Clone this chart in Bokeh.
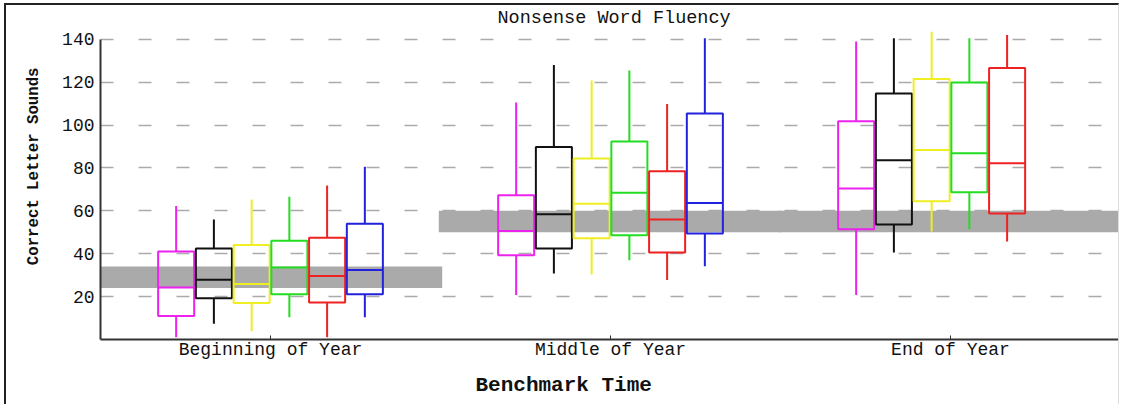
from bokeh.plotting import figure
from bokeh.models import FactorRange, ColumnDataSource, Title
from bokeh.transform import dodge
from bokeh.embed import file_html
from bokeh.resources import INLINE

categories = ["Beginning of Year", "Middle of Year", "End of Year"]
title_text = "Nonsense Word Fluency"
x_label = "Benchmark Time"
y_label = "Correct Letter Sounds"
y_ticks = [20, 40, 60, 80, 100, 120, 140]

# benchmark goal bands (low, high) per time
band_low = [24, 50, 50]
band_high = [34, 60, 60]

series_colors = ["#ee22ee", "#111111", "#eeee22", "#22dd22", "#ee2222", "#2222dd"]
# five-number summaries per series, per time (None = no data)
whisk_low = [
    [1, 20.7, 20.7],
    [7.3, 30.8, 40.6],
    [3.9, 30.3, 50.3],
    [10.4, 37.0, 51.4],
    [1.1, 27.7, 45.7],
    [10.4, 34.1, None],
]
q1 = [
    [11.0, 39.3, 51.4],
    [19.2, 42.4, 53.6],
    [17.0, 47.2, 64.4],
    [21.1, 48.6, 68.6],
    [17.3, 40.6, 58.7],
    [21.1, 49.4, None],
]
median = [
    [24.3, 50.6, 70.4],
    [27.9, 58.4, 83.6],
    [25.9, 63.3, 88.4],
    [33.6, 68.4, 86.8],
    [29.6, 56.0, 82.2],
    [32.4, 63.6, None],
]
q3 = [
    [41.0, 67.2, 101.7],
    [42.4, 89.8, 114.7],
    [44.1, 84.4, 121.5],
    [46.0, 92.3, 119.8],
    [47.4, 78.5, 126.6],
    [54.0, 105.4, None],
]
whisk_high = [
    [62.2, 110.5, 138.9],
    [56.0, 128.0, 140.4],
    [65.3, 120.7, 143.5],
    [66.6, 125.4, 140.4],
    [71.8, 109.8, 142.0],
    [80.5, 140.4, None],
]

MONO = "Liberation Mono"
step = 0.111
box_w = 0.106

p = figure(
    x_range=FactorRange(*categories, range_padding=0),
    y_range=(0, 145),
    width=1115, height=401,
    output_backend="svg", toolbar_location=None,
    min_border_left=94, min_border_right=1, min_border_top=20, min_border_bottom=65,
)
p.styles = {"border-top": "2px solid #222", "border-left": "2px solid #222",
            "border-right": "1px solid #dddddd", "margin-left": "4px", "margin-top": "3px"}
p.outline_line_color = None
p.background_fill_color = "white"

p.title.text = title_text
p.title.align = "left"
p.title.offset = 397
p.title.text_font = MONO
p.title.text_font_size = "18.5px"
p.title.text_font_style = "normal"
p.title.text_color = "#111111"
p.title.standoff = 0

# bands
band_src = ColumnDataSource(dict(cat=categories, low=band_low, high=band_high))
p.vbar(x="cat", width=1.01, bottom="low", top="high", source=band_src,
       fill_color="#aaaaaa", line_color=None)

n = len(series_colors)
for i, col in enumerate(series_colors):
    cats, lo, a, m, b, hi = [], [], [], [], [], []
    for j, c in enumerate(categories):
        if median[i][j] is None:
            continue
        cats.append(c); lo.append(whisk_low[i][j]); a.append(q1[i][j])
        m.append(median[i][j]); b.append(q3[i][j]); hi.append(whisk_high[i][j])
    src = ColumnDataSource(dict(cat=cats, lo=lo, q1=a, med=m, q3=b, hi=hi))
    off = (i - (n - 1) / 2) * step
    xc = dodge("cat", off, range=p.x_range)
    p.segment(x0=xc, y0="lo", x1=xc, y1="q1", source=src, line_color=col, line_width=2)
    p.segment(x0=xc, y0="q3", x1=xc, y1="hi", source=src, line_color=col, line_width=2)
    p.vbar(x=xc, width=box_w, bottom="q1", top="q3", source=src,
           fill_alpha=0, line_color=col, line_width=2)
    p.segment(x0=dodge("cat", off - box_w / 2, range=p.x_range), y0="med",
              x1=dodge("cat", off + box_w / 2, range=p.x_range), y1="med",
              source=src, line_color=col, line_width=2)

# axes
p.xgrid.grid_line_color = None
p.ygrid.grid_line_color = "#aaaaaa"
p.ygrid.grid_line_width = 1.5
p.ygrid.grid_line_dash = "13 25"
p.yaxis.ticker = y_ticks
p.yaxis.bounds = (0, 140)
p.yaxis.major_tick_out = 0
p.yaxis.major_tick_in = 0
p.yaxis.minor_tick_line_color = None
p.yaxis.axis_line_color = "#333333"
p.yaxis.axis_line_width = 2
p.yaxis.major_label_standoff = 6
p.yaxis.major_label_text_font = MONO
p.yaxis.major_label_text_font_size = "18px"
p.yaxis.major_label_text_color = "#111111"

p.xaxis.axis_line_color = "#333333"
p.xaxis.axis_line_width = 2
p.xaxis.major_tick_in = 4
p.xaxis.major_tick_out = 0
p.xaxis.major_tick_line_color = "#333333"
p.xaxis.major_label_standoff = 0
p.xaxis.major_label_text_font = MONO
p.xaxis.major_label_text_font_size = "18px"
p.xaxis.major_label_text_color = "#111111"

p.add_layout(Title(text=x_label, align="left", offset=375, standoff=19,
                   text_font=MONO, text_font_style="bold", text_font_size="21px",
                   text_color="#111111"), "below")
p.add_layout(Title(text=y_label, align="right", offset=39, standoff=33,
                   text_font=MONO, text_font_style="bold",
                   text_font_size="15.7px", text_color="#111111"), "left")

open("out.html", "w").write(file_html(p, INLINE))
